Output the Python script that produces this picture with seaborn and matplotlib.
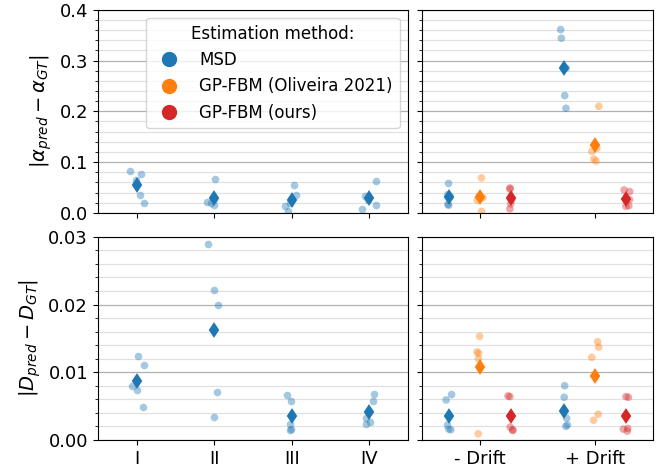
import numpy as np
import pandas as pd
import matplotlib
matplotlib.use("Agg")
import matplotlib.pyplot as plt
import seaborn as sns
from matplotlib.ticker import MultipleLocator
from matplotlib.lines import Line2D

np.random.seed(7)

# ---------------- data ----------------
methods = ["MSD", "GP-FBM (Oliveira 2021)", "GP-FBM (ours)"]
colors = ["#1f77b4", "#ff7f0e", "#d62728"]
regimes = ["I", "II", "III", "IV"]
conditions = ["- Drift", "+ Drift"]

# alpha error, MSD, regimes I..IV
alpha_I = [0.083, 0.077, 0.064, 0.035, 0.020]
alpha_II = [0.067, 0.028, 0.022, 0.019, 0.015]
alpha_III = [0.055, 0.036, 0.020, 0.013, 0.004]
alpha_IV = [0.062, 0.033, 0.026, 0.016, 0.007]

# alpha error, drift experiments
alpha_nodrift_msd = [0.058, 0.036, 0.032, 0.017, 0.015]
alpha_nodrift_oli = [0.069, 0.033, 0.030, 0.025, 0.003]
alpha_nodrift_ours = [0.049, 0.047, 0.026, 0.018, 0.008]
alpha_drift_msd = [0.361, 0.344, 0.285, 0.231, 0.206]
alpha_drift_oli = [0.210, 0.127, 0.121, 0.106, 0.102]
alpha_drift_ours = [0.045, 0.042, 0.026, 0.014, 0.013]

# D error, MSD, regimes I..IV
D_I = [0.0124, 0.0110, 0.0079, 0.0073, 0.0049]
D_II = [0.0289, 0.0221, 0.0200, 0.0071, 0.0034]
D_III = [0.0066, 0.0058, 0.0024, 0.0016, 0.0014]
D_IV = [0.0068, 0.0057, 0.0033, 0.0026, 0.0023]

# D error, drift experiments
D_nodrift_msd = [0.0067, 0.0059, 0.0022, 0.0016, 0.0015]
D_nodrift_oli = [0.0153, 0.0130, 0.0128, 0.0120, 0.0009]
D_nodrift_ours = [0.0065, 0.0064, 0.0019, 0.0015, 0.0014]
D_drift_msd = [0.0080, 0.0063, 0.0032, 0.0022, 0.0020]
D_drift_oli = [0.0145, 0.0137, 0.0122, 0.0038, 0.0029]
D_drift_ours = [0.0064, 0.0063, 0.0017, 0.0016, 0.0013]

# ---------------- tables ----------------
def left_df(groups):
    rows = []
    for reg, vals in zip(regimes, groups):
        for v in vals:
            rows.append({"regime": reg, "value": v})
    return pd.DataFrame(rows)

def right_df(groups):
    rows = []
    for cond, per_method in zip(conditions, groups):
        for m, vals in zip(methods, per_method):
            for v in vals:
                rows.append({"cond": cond, "method": m, "value": v})
    return pd.DataFrame(rows)

dfA_L = left_df([alpha_I, alpha_II, alpha_III, alpha_IV])
dfD_L = left_df([D_I, D_II, D_III, D_IV])
dfA_R = right_df([[alpha_nodrift_msd, alpha_nodrift_oli, alpha_nodrift_ours],
                  [alpha_drift_msd, alpha_drift_oli, alpha_drift_ours]])
dfD_R = right_df([[D_nodrift_msd, D_nodrift_oli, D_nodrift_ours],
                  [D_drift_msd, D_drift_oli, D_drift_ours]])

# ---------------- figure ----------------
fig = plt.figure(figsize=(6.61, 4.67), dpi=100)
gs = fig.add_gridspec(2, 2, width_ratios=[310, 231], left=0.148, right=0.988,
                      bottom=0.058, top=0.979, wspace=0.052, hspace=0.118)
axA_L = fig.add_subplot(gs[0, 0])
axA_R = fig.add_subplot(gs[0, 1], sharey=axA_L)
axD_L = fig.add_subplot(gs[1, 0])
axD_R = fig.add_subplot(gs[1, 1], sharey=axD_L)

strip_kw = dict(alpha=0.4, size=5.5, jitter=True, linewidth=0, zorder=2)
point_kw = dict(markers="d", linestyle="none", errorbar=None, markersize=6,
                markeredgewidth=1.5, zorder=3)

for ax, df in [(axA_L, dfA_L), (axD_L, dfD_L)]:
    sns.stripplot(data=df, x="regime", y="value", order=regimes, color=colors[0],
                  ax=ax, **strip_kw)
    sns.pointplot(data=df, x="regime", y="value", order=regimes, color=colors[0],
                  ax=ax, **point_kw)

for ax, df in [(axA_R, dfA_R), (axD_R, dfD_R)]:
    sns.stripplot(data=df, x="cond", y="value", order=conditions, hue="method",
                  hue_order=methods, palette=colors, dodge=True, legend=False,
                  ax=ax, **strip_kw)
    sns.pointplot(data=df, x="cond", y="value", order=conditions, hue="method",
                  hue_order=methods, palette=colors, dodge=0.8 * 2 / 3, legend=False,
                  ax=ax, **point_kw)

axA_L.set_ylim(0, 0.4)
axD_L.set_ylim(0, 0.03)
for ax in [axA_L, axA_R]:
    ax.yaxis.set_major_locator(MultipleLocator(0.1))
    ax.yaxis.set_minor_locator(MultipleLocator(0.02))
for ax in [axD_L, axD_R]:
    ax.yaxis.set_major_locator(MultipleLocator(0.01))
    ax.yaxis.set_minor_locator(MultipleLocator(0.002))

for ax in [axA_L, axA_R, axD_L, axD_R]:
    ax.set_axisbelow(True)
    ax.yaxis.grid(True, which="major", color="#b0b0b0", lw=0.9)
    ax.yaxis.grid(True, which="minor", color="#e0e0e0", lw=0.9)
    ax.xaxis.grid(False)
    ax.set_xlabel("")
    ax.set_ylabel("")
    ax.tick_params(axis="both", which="major", labelsize=13)
    for s in ax.spines.values():
        s.set_color("black")

axA_L.tick_params(axis="x", labelbottom=False)
axA_R.tick_params(axis="x", labelbottom=False)
axA_R.tick_params(axis="y", labelleft=False)
axD_R.tick_params(axis="y", labelleft=False)

axA_L.set_ylabel(r"$|\alpha_{pred} - \alpha_{GT}|$", fontsize=14)
axD_L.set_ylabel(r"$|D_{pred} - D_{GT}|$", fontsize=14)

handles = [Line2D([], [], marker="o", linestyle="none", color=c, markersize=10)
           for c in colors]
axA_L.legend(handles, methods, title="Estimation method:", loc="upper right",
             fontsize=12, title_fontsize=12)

fig.savefig("out.png", dpi=100)
